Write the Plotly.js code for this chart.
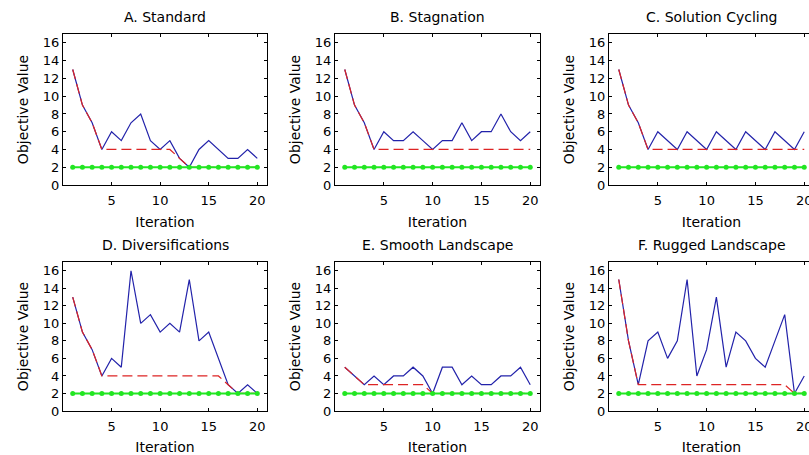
<!DOCTYPE html>
<html>
<head>
<meta charset="utf-8">
<script src="https://cdn.plot.ly/plotly-3.0.1.min.js"></script>
<style>
html,body{margin:0;padding:0;overflow:hidden;background:#fff;width:809px;height:455px;}
#plot{width:830px;height:455px;}
</style>
</head>
<body>
<div id="plot"></div>
<script>
const iterations = [1,2,3,4,5,6,7,8,9,10,11,12,13,14,15,16,17,18,19,20];
const panelTitles = ["A. Standard","B. Stagnation","C. Solution Cycling","D. Diversifications","E. Smooth Landscape","F. Rugged Landscape"];

const currentA = [13,9,7,4,6,5,7,8,5,4,5,3,2,4,5,4,3,3,4,3];
const bestA    = [13,9,7,4,4,4,4,4,4,4,4,3,2,2,2,2,2,2,2,2];
const currentB = [13,9,7,4,6,5,5,6,5,4,5,5,7,5,6,6,8,6,5,6];
const bestB    = [13,9,7,4,4,4,4,4,4,4,4,4,4,4,4,4,4,4,4,4];
const currentC = [13,9,7,4,6,5,4,6,5,4,6,5,4,6,5,4,6,5,4,6];
const bestC    = [13,9,7,4,4,4,4,4,4,4,4,4,4,4,4,4,4,4,4,4];
const currentD = [13,9,7,4,6,5,16,10,11,9,10,9,15,8,9,6,3,2,3,2];
const bestD    = [13,9,7,4,4,4,4,4,4,4,4,4,4,4,4,4,3,2,2,2];
const currentE = [5,4,3,4,3,4,4,5,4,2,5,5,3,4,3,3,4,4,5,3];
const bestE    = [5,4,3,3,3,3,3,3,3,2,2,2,2,2,2,2,2,2,2,2];
const currentF = [15,8,3,8,9,6,8,15,4,7,13,5,9,8,6,5,8,11,2,4];
const bestF    = [15,8,3,3,3,3,3,3,3,3,3,3,3,3,3,3,3,3,2,2];
const optimum  = [2,2,2,2,2,2,2,2,2,2,2,2,2,2,2,2,2,2,2,2];

const xTicks = [5,10,15,20];
const yTicks = [0,2,4,6,8,10,12,14,16];

const currents = [currentA,currentB,currentC,currentD,currentE,currentF];
const bests = [bestA,bestB,bestC,bestD,bestE,bestF];

const W = 830, H = 455;
const cols = [[63,267],[335,540],[609,814]];
const rows = [[34,185],[262,411]];
const FONT = "DejaVu Sans";

const traces = [];
const layout = {
  width: W, height: H,
  margin: {l:0,r:0,t:0,b:0},
  paper_bgcolor: "#fff", plot_bgcolor: "#fff",
  showlegend: false,
  font: {family: FONT, size: 13, color: "#000"},
  annotations: []
};

for (let i = 0; i < 6; i++) {
  const c = cols[i % 3], r = rows[Math.floor(i / 3)];
  const n = i === 0 ? "" : String(i + 1);
  const xa = "x" + n, ya = "y" + n;
  traces.push({x: iterations, y: currents[i], xaxis: xa, yaxis: ya, mode: "lines",
    line: {color: "#2222aa", width: 1.2}, hoverinfo: "skip"});
  traces.push({x: iterations, y: bests[i], xaxis: xa, yaxis: ya, mode: "lines",
    line: {color: "#dd2424", width: 1.2, dash: "10px,5px"}, hoverinfo: "skip"});
  traces.push({x: iterations, y: optimum, xaxis: xa, yaxis: ya, mode: "lines+markers",
    line: {color: "#22e622", width: 2}, marker: {color: "#22e622", size: 5, symbol: "circle"}, hoverinfo: "skip"});
  const axCommon = {
    showgrid: false, zeroline: false, showline: true, linecolor: "#000", linewidth: 1,
    mirror: "ticks", ticks: "inside", ticklen: 3, tickcolor: "#000", tickwidth: 1,
    tickfont: {family: FONT, size: 13, color: "#000"}, fixedrange: true
  };
  layout["xaxis" + n] = Object.assign({}, axCommon, {
    domain: [c[0] / W, c[1] / W], range: [0, 21], anchor: ya,
    tickvals: xTicks, ticktext: xTicks.map(String), ticklabelstandoff: 3,
    title: {text: "Iteration", font: {family: FONT, size: 14, color: "#000"}, standoff: 10}
  });
  layout["yaxis" + n] = Object.assign({}, axCommon, {
    domain: [1 - r[1] / H, 1 - r[0] / H], range: [0, 17], anchor: xa,
    tickvals: yTicks, ticktext: yTicks.map(String),
    title: {text: "Objective Value", font: {family: FONT, size: 14, color: "#000"}, standoff: 10}
  });
  layout.annotations.push({
    text: panelTitles[i], xref: "paper", yref: "paper",
    x: (c[0] + c[1]) / 2 / W, y: 1 - (r[0] - 17) / H,
    xanchor: "center", yanchor: "middle", showarrow: false,
    font: {family: FONT, size: 14, color: "#000"}
  });
}

Plotly.newPlot("plot", traces, layout, {staticPlot: true, displayModeBar: false});
</script>
</body>
</html>
